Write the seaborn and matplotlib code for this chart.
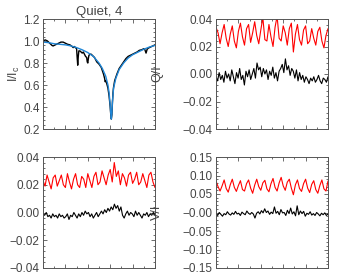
import numpy as np
import pandas as pd
import matplotlib
matplotlib.use("Agg")
import matplotlib.pyplot as plt
from matplotlib.ticker import MultipleLocator, AutoMinorLocator, FixedFormatter, FixedLocator
import seaborn as sns

# ---------------- data ----------------
title = "Quiet, 4"

# Panel 1: intensity profile (observed black, fit blue)
i_obs_x = [0, 2, 4, 6, 8, 9, 10, 12, 14, 16, 18, 20, 22, 24, 26, 27, 28, 29, 30, 30.5, 31, 31.5, 32,
           33, 34, 35, 36, 37, 38, 39, 39.5, 40, 40.5, 41, 42, 43, 44, 45, 46, 47, 48, 50, 52, 53, 54,
           55, 55.5, 56, 57, 58, 59, 60, 60.5, 61, 61.5, 62, 62.5, 63, 64, 65, 66, 68, 70, 72, 74, 76,
           78, 80, 82, 84, 86, 88, 90, 91, 92, 93, 94, 96, 98, 100]
i_obs_y = [1.00, 1.01, 1.00, 0.98, 0.96, 0.955, 0.96, 0.97, 0.98, 0.99, 0.99, 0.98, 0.97, 0.965, 0.95, 0.94,
           0.95, 0.94, 0.93, 0.85, 0.78, 0.86, 0.91, 0.91, 0.90, 0.89, 0.90, 0.88, 0.86, 0.85, 0.81, 0.80,
           0.84, 0.87, 0.88, 0.88, 0.87, 0.86, 0.85, 0.83, 0.81, 0.79, 0.76, 0.73, 0.70, 0.66, 0.63, 0.64,
           0.61, 0.57, 0.50, 0.40, 0.33, 0.29, 0.33, 0.44, 0.53, 0.58, 0.64, 0.67, 0.70, 0.75, 0.78, 0.81,
           0.84, 0.86, 0.87, 0.88, 0.89, 0.90, 0.915, 0.92, 0.93, 0.92, 0.89, 0.925, 0.935, 0.945, 0.955, 0.965]
i_fit_x = [0, 5, 10, 15, 20, 25, 30, 35, 40, 45, 50, 53, 56, 58, 59, 60, 60.5, 61, 61.5, 62, 63, 65,
           68, 72, 76, 80, 85, 90, 95, 100]
i_fit_y = [0.99, 0.985, 0.975, 0.97, 0.965, 0.955, 0.94, 0.92, 0.895, 0.86, 0.80, 0.75, 0.68, 0.60,
           0.53, 0.42, 0.34, 0.29, 0.34, 0.45, 0.57, 0.66, 0.74, 0.80, 0.845, 0.875, 0.90, 0.925, 0.945, 0.96]

# Panel 2: Q/I
q_red = [0.034, 0.030, 0.022, 0.030, 0.036, 0.026, 0.020, 0.029, 0.035, 0.024, 0.019, 0.031, 0.037, 0.027,
         0.021, 0.033, 0.036, 0.023, 0.030, 0.038, 0.028, 0.022, 0.032, 0.041, 0.025, 0.024, 0.036, 0.027,
         0.020, 0.034, 0.042, 0.026, 0.024, 0.035, 0.030, 0.021, 0.033, 0.037, 0.016, 0.029, 0.036, 0.025,
         0.021, 0.032, 0.035, 0.022, 0.024, 0.033, 0.026, 0.021, 0.031, 0.034, 0.024, 0.019, 0.028, 0.033]
q_black = [-0.002, -0.005, 0.001, -0.004, -0.001, -0.006, 0.002, -0.003, 0.000, -0.005, 0.003, -0.002,
           -0.007, 0.001, -0.003, 0.004, -0.004, -0.001, -0.008, 0.002, -0.002, 0.003, -0.004, 0.000,
           0.004, -0.003, 0.008, 0.003, 0.005, -0.002, 0.004, 0.000, 0.003, -0.004, 0.002, -0.001, 0.005,
           -0.003, 0.001, -0.005, 0.002, 0.004, 0.007, 0.001, 0.011, 0.003, 0.006, -0.001, 0.004, 0.002,
           -0.003, 0.003, -0.005, 0.001, -0.004, -0.001, -0.006, -0.002, -0.004, -0.007, -0.003, -0.005,
           -0.002, -0.006, -0.004, -0.001, -0.005, -0.007, -0.003, -0.004, -0.006, -0.002]

# Panel 3: U/I
u_red = [0.023, 0.019, 0.027, 0.022, 0.017, 0.025, 0.027, 0.019, 0.023, 0.027, 0.020, 0.018, 0.028, 0.022,
         0.017, 0.024, 0.028, 0.020, 0.018, 0.026, 0.024, 0.018, 0.028, 0.023, 0.018, 0.026, 0.029, 0.020,
         0.022, 0.030, 0.025, 0.020, 0.027, 0.031, 0.022, 0.036, 0.026, 0.030, 0.020, 0.028, 0.025, 0.019,
         0.027, 0.029, 0.021, 0.024, 0.029, 0.020, 0.022, 0.028, 0.023, 0.018, 0.027, 0.029, 0.022, 0.018]
u_black = [-0.001, -0.002, 0.000, -0.003, -0.002, -0.004, -0.001, -0.003, -0.002, -0.004, -0.001, -0.003,
           -0.002, -0.004, -0.003, -0.001, -0.005, -0.002, -0.003, 0.000, -0.002, -0.004, -0.001, -0.003,
           0.000, -0.002, 0.001, -0.001, 0.000, -0.003, -0.001, -0.004, -0.002, 0.000, -0.003, -0.001,
           0.001, -0.001, 0.002, 0.000, 0.003, 0.001, 0.004, 0.002, 0.006, 0.003, 0.005, 0.001, 0.004,
           -0.002, -0.004, -0.001, 0.001, -0.002, 0.000, -0.001, -0.003, 0.001, -0.002, 0.000, -0.002,
           -0.004, -0.001, -0.002, 0.000, -0.003, -0.001, -0.002, 0.000, -0.002]

# Panel 4: V/I
v_red = [0.085, 0.070, 0.058, 0.072, 0.088, 0.065, 0.055, 0.075, 0.090, 0.068, 0.057, 0.073, 0.086, 0.062,
         0.058, 0.078, 0.088, 0.066, 0.052, 0.074, 0.090, 0.070, 0.060, 0.080, 0.087, 0.064, 0.056, 0.078,
         0.092, 0.068, 0.058, 0.080, 0.095, 0.072, 0.060, 0.082, 0.090, 0.066, 0.048, 0.075, 0.088, 0.065,
         0.057, 0.078, 0.090, 0.066, 0.054, 0.076, 0.086, 0.062, 0.052, 0.073, 0.088, 0.064, 0.058, 0.085]
v_black = [-0.002, -0.008, 0.000, -0.005, -0.010, -0.003, -0.006, 0.002, -0.004, -0.007, -0.001, -0.005,
           0.003, -0.004, -0.002, -0.008, 0.001, -0.003, -0.006, 0.004, -0.002, -0.005, 0.000, -0.004,
           -0.015, -0.002, 0.002, -0.004, 0.005, -0.001, 0.010, 0.000, 0.004, -0.005, 0.001, -0.003,
           0.015, -0.002, 0.003, -0.006, 0.008, -0.001, 0.000, -0.008, 0.006, -0.003, 0.012, -0.004,
           0.002, -0.009, 0.018, -0.006, 0.004, -0.003, 0.003, -0.010, -0.002, -0.005, 0.002, -0.007,
           -0.003, -0.008, 0.000, -0.004, -0.009, -0.002, -0.006, -0.001, -0.008, -0.004]

panel_ylabels = ["I/I$_c$", "Q/I", "U/I", "V/I"]

# tick values and labels
i_ticks = [0.2, 0.4, 0.6, 0.8, 1.0, 1.2]
i_ticklabels = ["0.2", "0.4", "0.6", "0.8", "1.0", "1.2"]
qu_ticks = [-0.04, -0.02, 0.0, 0.02, 0.04]
qu_ticklabels = ["\u22120.04", "\u22120.02", "0.00", "0.02", "0.04"]
v_ticks = [-0.15, -0.10, -0.05, 0.0, 0.05, 0.10, 0.15]
v_ticklabels = ["\u22120.15", "\u22120.10", "\u22120.05", "\u22120.00", "0.05", "0.10", "0.15"]

# ---------------- style ----------------
sns.set_style("ticks")
plt.rcParams['font.family'] = ['Liberation Sans', 'DejaVu Sans']
plt.rcParams['font.size'] = 8.5
plt.rcParams['mathtext.fontset'] = 'custom'
plt.rcParams['mathtext.rm'] = 'Liberation Sans'
plt.rcParams['mathtext.it'] = 'Liberation Sans'
TXT = '#444444'
FRAME = '#555555'

fig = plt.figure(figsize=(3.46, 2.75), dpi=100)
W, H = 346.0, 275.0
def ax_at(l, t, r, b):
    return fig.add_axes([l / W, 1 - b / H, (r - l) / W, (b - t) / H])

ax1 = ax_at(43, 19, 155, 129)
ax2 = ax_at(216, 19, 328, 129)
ax3 = ax_at(43, 157, 155, 268)
ax4 = ax_at(216, 157, 328, 268)

def series_df(vals):
    n = len(vals)
    return pd.DataFrame({"x": np.linspace(0, 100, n), "y": vals})

# Panel 1
sns.lineplot(data=pd.DataFrame({"x": i_obs_x, "y": i_obs_y}), x="x", y="y", ax=ax1,
             color="black", lw=1.0, sort=False, estimator=None)
sns.lineplot(data=pd.DataFrame({"x": i_fit_x, "y": i_fit_y}), x="x", y="y", ax=ax1,
             color="#1f86d6", lw=1.0, sort=False, estimator=None)
ax1.set_ylim(0.2, 1.2)
ax1.yaxis.set_major_locator(FixedLocator(i_ticks))
ax1.yaxis.set_major_formatter(FixedFormatter(i_ticklabels))
ax1.set_title(title, fontsize=9.5, color=TXT, pad=3)

# Panels 2-4
for ax, red, blk, lim, ticks, labels in [(ax2, q_red, q_black, 0.04, qu_ticks, qu_ticklabels),
                                         (ax3, u_red, u_black, 0.04, qu_ticks, qu_ticklabels),
                                         (ax4, v_red, v_black, 0.15, v_ticks, v_ticklabels)]:
    sns.lineplot(data=series_df(red), x="x", y="y", ax=ax, color="red", lw=0.8, estimator=None)
    sns.lineplot(data=series_df(blk), x="x", y="y", ax=ax, color="black", lw=0.8, estimator=None)
    ax.set_ylim(-lim, lim)
    ax.yaxis.set_major_locator(FixedLocator(ticks))
    ax.yaxis.set_major_formatter(FixedFormatter(labels))

for ax, lab in zip([ax1, ax2, ax3, ax4], panel_ylabels):
    ax.set_xlim(0, 100)
    ax.xaxis.set_major_locator(MultipleLocator(20))
    ax.xaxis.set_minor_locator(MultipleLocator(10))
    ax.yaxis.set_minor_locator(AutoMinorLocator(5))
    ax.set_xticklabels([])
    ax.set_xlabel("")
    ax.tick_params(which='both', direction='in', top=True, right=True, colors=FRAME,
                   labelcolor=TXT, labelsize=8.5, width=0.6, pad=2.5)
    ax.tick_params(which='major', length=3)
    ax.tick_params(which='minor', length=1.5)
    for s in ax.spines.values():
        s.set_color(FRAME)
        s.set_linewidth(0.7)
    ax.set_ylabel(lab, color=TXT, fontsize=9)

ax1.yaxis.set_label_coords(-0.19, 0.5)
ax2.yaxis.set_label_coords(-0.47, 0.5)
ax4.yaxis.set_label_coords(-0.47, 0.5)
ax3.yaxis.set_label_coords(-0.43, 0.5)

fig.savefig("out.png", dpi=100)
